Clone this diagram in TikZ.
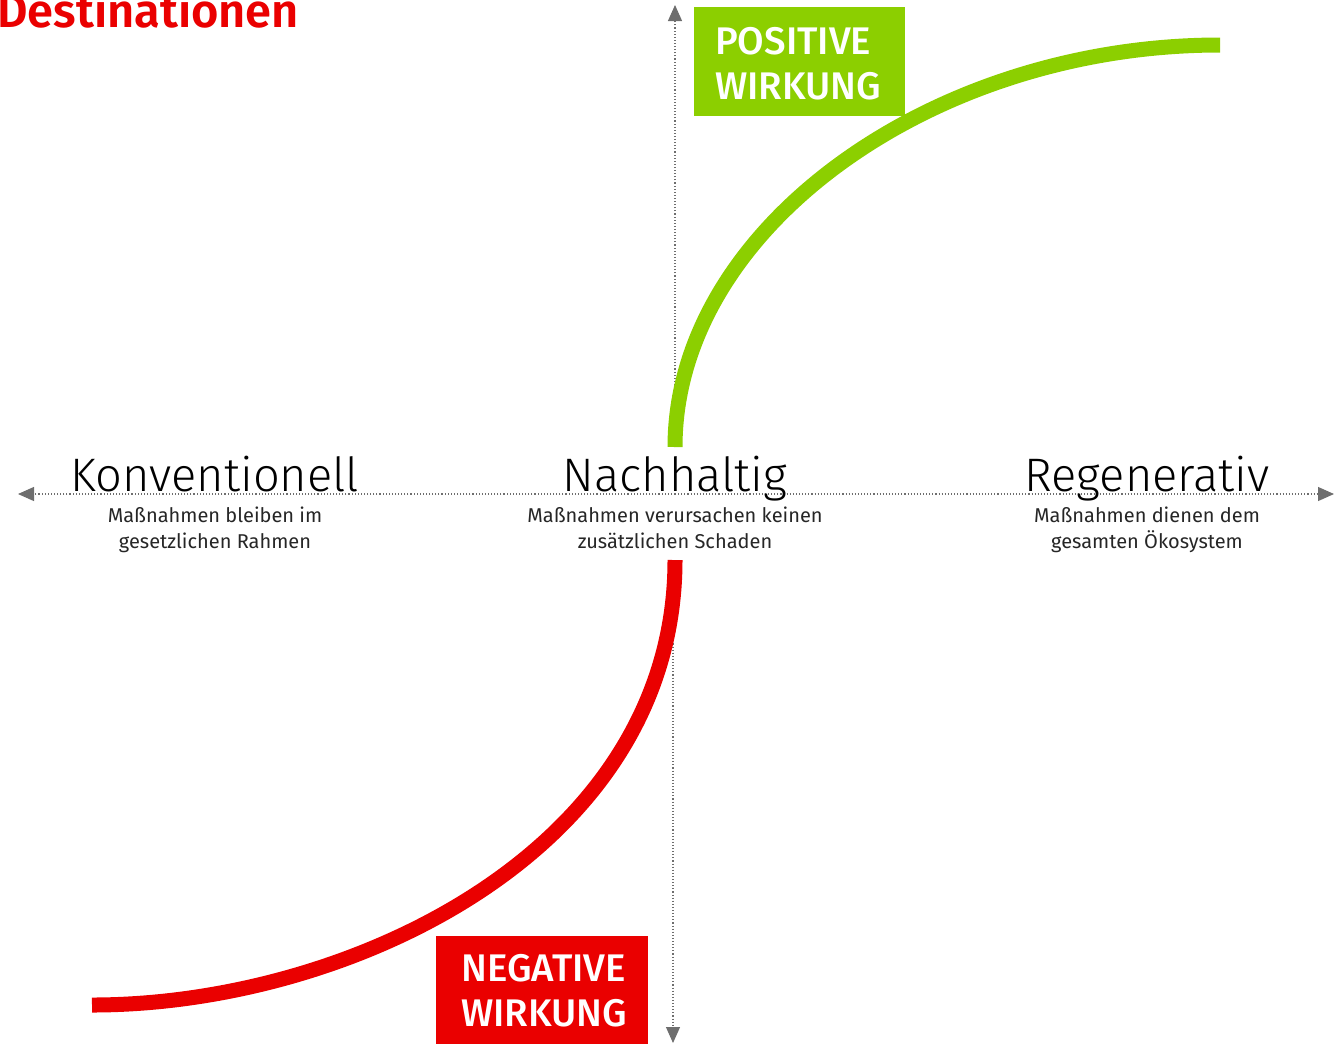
\documentclass[tikz,border=0pt]{standalone}
\usepackage{fontspec}
\setmainfont{Fira Sans}
\newfontfamily\lightfont{Fira Sans Light}
\newfontfamily\mediumfont{Fira Sans Medium}
\newfontfamily\semiboldfont{Fira Sans SemiBold}
\usetikzlibrary{arrows.meta}
\definecolor{dgreen}{RGB}{140,207,0}
\definecolor{dred}{RGB}{234,0,0}
\definecolor{axisgrey}{RGB}{110,110,110}
\tikzset{
  axis/.style={draw=axisgrey, line width=1.1pt, dotted, -{Triangle[length=16pt,width=14pt]}},
  biglabel/.style={font=\lightfont\fontsize{47}{52}\selectfont, text=black, inner sep=0pt},
  sublabel/.style={font=\fontsize{20}{26}\selectfont, text=black!85, align=center, inner sep=0pt},
  wirkbox/.style={font=\mediumfont\fontsize{38.5}{45}\selectfont, text=white, align=left, inner sep=0pt},
  curve/.style={line width=15pt},
}
\begin{document}
\begin{tikzpicture}[x=1pt,y=-1pt]
\useasboundingbox (0,0) rectangle (1340,1045);
\begin{scope}
\clip (0,0) rectangle (1340,1045);
\node[anchor=base west, inner sep=0pt, font=\semiboldfont\fontsize{47}{52}\selectfont, text=dred] (title) at (-3,27) {Destinationen};
\end{scope}
% axes
\coordinate (hl) at (18,494);
\coordinate (hr) at (1334,494);
\coordinate (hm) at (675,494);
\coordinate (vt) at (675,5);
\coordinate (vtb) at (675,447);
\coordinate (vb) at (673,1043);
\coordinate (vbt) at (673,600);
\draw[axis] (hm) -- (hl);
\draw[axis] (hm) -- (hr);
\draw[axis] (vtb) -- (vt);
\draw[axis] (vbt) -- (vb);
% curves
\coordinate (gs) at (675,447);
\coordinate (ge) at (1220,45);
\draw[curve, draw=dgreen] (gs) .. controls (675,230) and (930,45) .. (ge);
\coordinate (rs) at (675,560);
\coordinate (re) at (92,1005);
\draw[curve, draw=dred] (rs) .. controls (675,850) and (350,1005) .. (re);
% boxes
\fill[dgreen] (694,7) rectangle (905,116);
\node[wirkbox, anchor=base west] (pos) at (715,99) {POSITIVE\\WIRKUNG};
\fill[dred] (436,936) rectangle (648,1044);
\node[wirkbox, anchor=base west] (neg) at (461,1026) {NEGATIVE\\WIRKUNG};
% labels
\node[biglabel, anchor=base] (konv) at (215,491) {Konventionell};
\node[biglabel, anchor=base] (nach) at (675,491) {Nachhaltig};
\node[biglabel, anchor=base] (regen) at (1147,491) {Regenerativ};
\node[sublabel, anchor=base] (konvs) at (215,548) {Maßnahmen bleiben im\\gesetzlichen Rahmen};
\node[sublabel, anchor=base] (nachs) at (675,548) {Maßnahmen verursachen keinen\\zusätzlichen Schaden};
\node[sublabel, anchor=base] (regens) at (1147,548) {Maßnahmen dienen dem\\gesamten Ökosystem};
\end{tikzpicture}
\end{document}
